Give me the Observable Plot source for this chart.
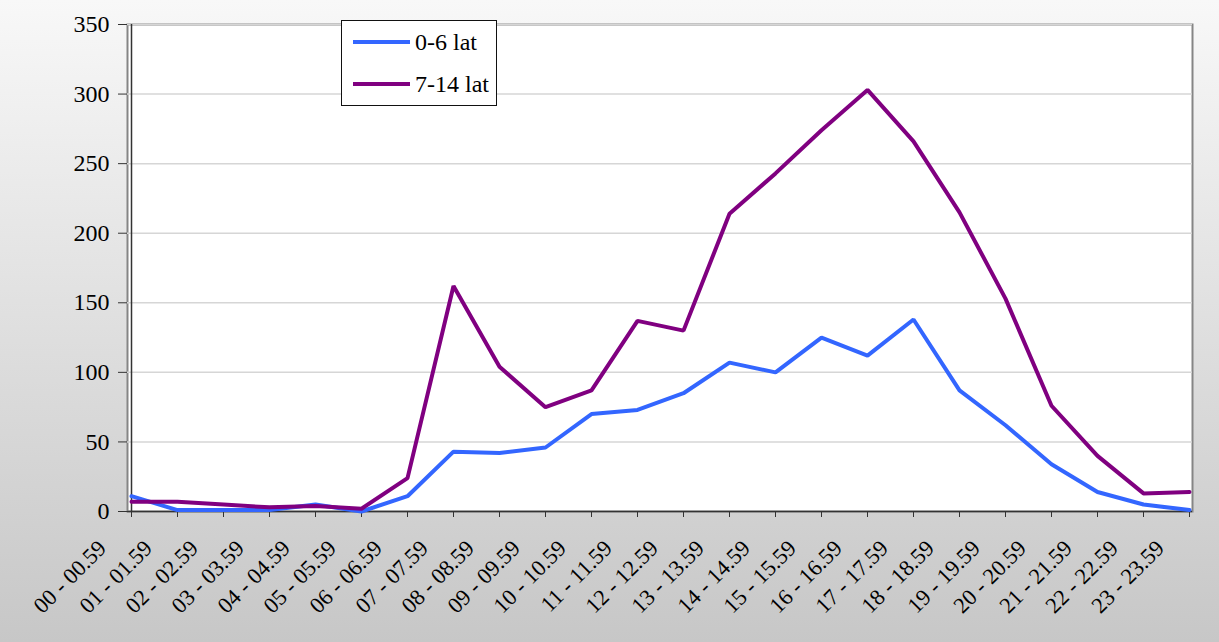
<!DOCTYPE html>
<html>
<head>
<meta charset="utf-8">
<script src="https://cdn.jsdelivr.net/npm/d3@7"></script>
<script src="https://cdn.jsdelivr.net/npm/@observablehq/plot@0.6"></script>
<style>
  html, body { margin: 0; padding: 0; }
  body { width: 1219px; height: 642px; overflow: hidden; }
  #wrap {
    position: relative; width: 1219px; height: 642px;
    background: linear-gradient(to bottom, #f8f8f8 0%, #c7c7c7 100%);
    font-family: "Liberation Serif", "Times New Roman", serif;
  }
  #legend {
    position: absolute; left: 341px; top: 20px; width: 154px; height: 84px;
    background: #fff; border: 1px solid #111; box-sizing: content-box;
  }
  .row { position: absolute; left: 11px; display: flex; align-items: center; height: 30px; }
  .sw { width: 57px; height: 4px; margin-right: 5px; }
  .lab { font-size: 24px; color: #000; line-height: 30px; }
</style>
</head>
<body>
<div id="wrap"></div>
<script>
const categories = ["00 - 00.59","01 - 01.59","02 - 02.59","03 - 03.59","04 - 04.59","05 - 05.59",
  "06 - 06.59","07 - 07.59","08 - 08.59","09 - 09.59","10 - 10.59","11 - 11.59",
  "12 - 12.59","13 - 13.59","14 - 14.59","15 - 15.59","16 - 16.59","17 - 17.59",
  "18 - 18.59","19 - 19.59","20 - 20.59","21 - 21.59","22 - 22.59","23 - 23.59"];
const series0to6 = [11,1,1,1,5,0,11,43,42,46,70,73,85,107,100,125,112,138,87,62,34,14,5,1];
const series7to14 = [7,7,5,3,4,2,24,162,104,75,87,137,130,214,243,274,303,266,215,153,76,40,13,14];
const seriesNames = ["0-6 lat", "7-14 lat"];
const seriesColors = ["#3366ff", "#800080"];
const yTicks = [0,50,100,150,200,250,300,350];

const data = [];
categories.forEach((c, i) => {
  data.push({cat: c, value: series0to6[i], series: seriesNames[0]});
  data.push({cat: c, value: series7to14[i], series: seriesNames[1]});
});

const font = "Liberation Serif, Times New Roman, serif";
const chart = Plot.plot({
  width: 1219,
  height: 642,
  marginLeft: 127,
  marginRight: 27,
  marginTop: 24,
  marginBottom: 131,
  style: {background: "transparent", fontFamily: font, color: "#000", overflow: "visible"},
  x: {type: "point", domain: categories, padding: 0, axis: null},
  y: {domain: [0, 350], axis: null},
  color: {domain: seriesNames, range: seriesColors},
  marks: [
    Plot.frame({fill: "white", stroke: "#858585", strokeWidth: 2}),
    Plot.gridY(yTicks, {stroke: "#d6d6d6", strokeOpacity: 1, strokeWidth: 1.5}),
    Plot.ruleX([categories[0]], {stroke: "#333", strokeWidth: 1.5}),
    Plot.ruleY([0], {stroke: "#333", strokeWidth: 1.5}),
    Plot.axisY(yTicks, {tickSize: 9, tickPadding: 9, fontSize: 24, stroke: "#333", fontFamily: font, label: null}),
    Plot.axisX({ticks: categories, tickSize: 6, tickFormat: () => "", stroke: "#333", label: null}),
    Plot.text(categories, {x: d => d, frameAnchor: "bottom", rotate: -45, textAnchor: "end",
      dx: -24, dy: 38, fontSize: 22.5, fontFamily: font, fill: "#000"}),
    Plot.line(data, {x: "cat", y: "value", stroke: "series", strokeWidth: 4, strokeLinejoin: "miter"})
  ]
});
const wrap = document.getElementById("wrap");
wrap.appendChild(chart);

const legend = document.createElement("div");
legend.id = "legend";
seriesNames.forEach((n, i) => {
  const row = document.createElement("div");
  row.className = "row";
  row.style.top = (6 + i * 42) + "px";
  const sw = document.createElement("div");
  sw.className = "sw";
  sw.style.background = seriesColors[i];
  const lab = document.createElement("span");
  lab.className = "lab";
  lab.textContent = n;
  row.appendChild(sw);
  row.appendChild(lab);
  legend.appendChild(row);
});
wrap.appendChild(legend);
</script>
</body>
</html>
